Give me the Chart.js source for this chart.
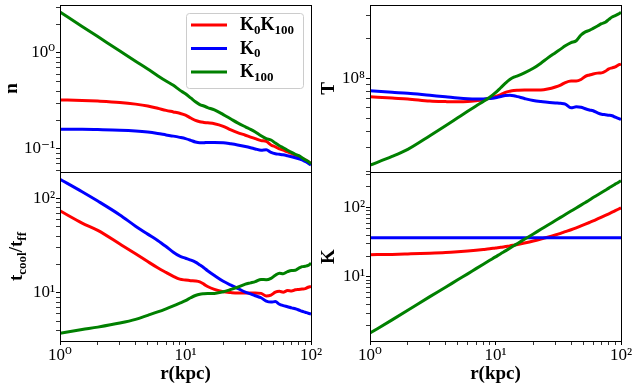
<!DOCTYPE html>
<html>
<head>
<meta charset="utf-8">
<script src="https://cdn.jsdelivr.net/npm/chart.js@4.4.1/dist/chart.umd.min.js"></script>
<style>
  body { margin: 0; background: #fff; }
  #fig { position: relative; width: 635px; height: 390px; }
  #fig canvas { position: absolute; left: 0; top: 0; }
</style>
</head>
<body>
<div id="fig">
  <canvas id="nChart" width="635" height="390"></canvas>
  <canvas id="tChart" width="635" height="390"></canvas>
  <canvas id="coolChart" width="635" height="390"></canvas>
  <canvas id="kChart" width="635" height="390"></canvas>
</div>
<script>
// radius (kpc), shared by every panel
const radius = [1, 1.5, 2, 3, 4, 5, 6, 7, 8, 9, 10, 11, 12, 13, 14, 15, 17, 20, 23, 26,
                30, 33, 36, 40, 44, 48, 52, 56, 60, 65, 70, 75, 80, 85, 90, 95, 100];

// density n
const nK0K100 = [0.324, 0.32, 0.315, 0.305, 0.293, 0.28, 0.265, 0.252, 0.243, 0.235,
                 0.225, 0.21, 0.198, 0.192, 0.189, 0.187, 0.183, 0.172, 0.158, 0.148,
                 0.139, 0.133, 0.128, 0.122, 0.12, 0.11, 0.105, 0.1, 0.097, 0.093,
                 0.09, 0.086, 0.083, 0.08, 0.077, 0.074, 0.07];
const nK0 = [0.16, 0.16, 0.159, 0.157, 0.154, 0.15, 0.145, 0.14, 0.136, 0.132,
             0.128, 0.123, 0.118, 0.116, 0.116, 0.117, 0.117, 0.116, 0.113, 0.11,
             0.106, 0.103, 0.1, 0.097, 0.098, 0.092, 0.089, 0.088, 0.087, 0.085,
             0.083, 0.081, 0.079, 0.077, 0.074, 0.071, 0.068];
const nK100 = [2.67, 1.89, 1.48, 1.05, 0.82, 0.68, 0.58, 0.51, 0.46, 0.41,
               0.375, 0.34, 0.31, 0.29, 0.28, 0.27, 0.255, 0.228, 0.205, 0.187,
               0.17, 0.16, 0.15, 0.137, 0.128, 0.124, 0.115, 0.108, 0.103, 0.097,
               0.092, 0.088, 0.085, 0.081, 0.077, 0.074, 0.07];

// temperature T
const tK0K100 = [0.727e8, 0.71e8, 0.70e8, 0.675e8, 0.668e8, 0.665e8, 0.668e8, 0.678e8, 0.69e8, 0.71e8,
                 0.73e8, 0.755e8, 0.785e8, 0.80e8, 0.81e8, 0.814e8, 0.818e8, 0.816e8, 0.817e8, 0.83e8,
                 0.86e8, 0.89e8, 0.93e8, 0.955e8, 0.955e8, 0.98e8, 1.035e8, 1.06e8, 1.08e8, 1.095e8,
                 1.1e8, 1.13e8, 1.18e8, 1.2e8, 1.22e8, 1.26e8, 1.28e8];
const tK0 = [0.806e8, 0.785e8, 0.772e8, 0.745e8, 0.727e8, 0.712e8, 0.703e8, 0.70e8, 0.70e8, 0.705e8,
             0.715e8, 0.73e8, 0.742e8, 0.746e8, 0.74e8, 0.728e8, 0.705e8, 0.68e8, 0.668e8, 0.661e8,
             0.653e8, 0.648e8, 0.64e8, 0.60e8, 0.61e8, 0.606e8, 0.59e8, 0.578e8, 0.57e8, 0.55e8,
             0.537e8, 0.532e8, 0.528e8, 0.523e8, 0.51e8, 0.50e8, 0.49e8];
const tK100 = [0.222e8, 0.258e8, 0.292e8, 0.37e8, 0.44e8, 0.505e8, 0.565e8, 0.62e8, 0.67e8, 0.72e8,
               0.78e8, 0.85e8, 0.92e8, 0.98e8, 1.02e8, 1.045e8, 1.1e8, 1.19e8, 1.3e8, 1.42e8,
               1.56e8, 1.66e8, 1.76e8, 1.86e8, 1.92e8, 2.12e8, 2.24e8, 2.3e8, 2.38e8, 2.48e8,
               2.58e8, 2.65e8, 2.78e8, 2.9e8, 2.97e8, 3.05e8, 3.14e8];

// t_cool / t_ff
const coolK0K100 = [74, 55, 46, 33, 26, 21.5, 18.5, 16.5, 15, 14,
                    13.7, 13.5, 13.4, 13.1, 12.4, 11.7, 10.9, 10.3, 10.1, 10.0,
                    10.0, 10.0, 10.0, 9.9, 9.3, 9.5, 10.2, 10.4, 10.2, 10.6,
                    10.5, 10.8, 10.9, 11.0, 11.1, 11.5, 11.7];
const coolK0 = [160, 118, 94, 67, 51, 42, 36, 31, 27, 24.5,
                23.3, 22.3, 21.2, 19.8, 18.5, 17.2, 15.3, 13.3, 12.1, 11.2,
                10.2, 9.8, 9.35, 8.9, 8.2, 8.0, 8.1, 7.6, 7.35, 7.15,
                6.95, 6.8, 6.6, 6.4, 6.25, 6.1, 6.0];
const coolK100 = [3.75, 4.1, 4.35, 4.8, 5.25, 5.8, 6.3, 6.8, 7.3, 7.8,
                  8.3, 8.9, 9.4, 9.7, 9.8, 9.85, 9.9, 10.3, 10.9, 11.5,
                  12.4, 12.8, 13.2, 13.9, 13.8, 14.3, 15.4, 16.2, 16.0, 16.8,
                  17.3, 17.4, 18.3, 19.0, 19.2, 19.6, 20.6];

// entropy K
const kK0K100 = [21.0, 21.2, 21.5, 22.0, 22.5, 23.1, 23.7, 24.3, 24.9, 25.5,
                 26.2, 26.8, 27.5, 28.1, 28.8, 29.5, 30.9, 33.0, 35.2, 37.4,
                 40.4, 42.7, 45.1, 48.1, 51.3, 54.6, 57.9, 61.2, 64.5, 68.8,
                 73.1, 77.4, 81.7, 86.1, 90.6, 95.1, 99.6];
const kK0 = [37, 37, 37, 37, 37, 37, 37, 37, 37, 37,
             37, 37, 37, 37, 37, 37, 37, 37, 37, 37,
             37, 37, 37, 37, 37, 37, 37, 37, 37, 37,
             37, 37, 37, 37, 37, 37, 37];
const kK100 = [1.55, 2.4, 3.3, 5.2, 7.1, 9.1, 11.1, 13.2, 15.3, 17.4,
               19.5, 21.7, 23.8, 26.0, 28.3, 30.5, 35.0, 41.8, 48.8, 55.8,
               65.3, 72.5, 79.8, 89.5, 99.3, 109, 119, 129, 140, 153,
               166, 179, 192, 206, 219, 232, 246];

// axis ranges
const xRange = [1, 100];
const nRange = [0.0575, 3.16];
const tRange = [1.97e7, 3.57e8];
const coolRange = [3.1, 191];
const kRange = [1.19, 328];

const RED = '#ff0000', BLUE = '#0000ff', GREEN = '#008000';
const SERIF = '"Liberation Serif", "DejaVu Serif", serif';
const SUP = { '-': '⁻', '0': '⁰', '1': '¹', '2': '²', '3': '³', '4': '⁴', '5': '⁵', '6': '⁶', '7': '⁷', '8': '⁸', '9': '⁹' };

// legend names, written as [text, subscript?] pieces
const legendNames = [
  [['K', 0], ['0', 1], ['K', 0], ['100', 1]],
  [['K', 0], ['0', 1]],
  [['K', 0], ['100', 1]]
];

function powLabel(v) {
  const e = Math.log10(v);
  if (Math.abs(e - Math.round(e)) > 1e-6) return '';
  return '10' + String(Math.round(e)).split('').map(c => SUP[c]).join('');
}

// one tick for every 1..9 x 10^e inside the range
function decadeTicks(scale) {
  const out = [];
  for (let e = Math.floor(Math.log10(scale.min)); e <= Math.ceil(Math.log10(scale.max)); e++) {
    for (let m = 1; m < 10; m++) {
      const v = m * Math.pow(10, e);
      if (v >= scale.min * 0.9999 && v <= scale.max * 1.0001) out.push({ value: v, major: m === 1 });
    }
  }
  scale.ticks = out;
}

function drawRuns(ctx, runs, x, y, size, align) {
  const main = 'bold ' + size + 'px ' + SERIF;
  const sub = 'bold ' + Math.round(size * 0.7) + 'px ' + SERIF;
  let w = 0;
  runs.forEach(([t, s]) => { ctx.font = s ? sub : main; w += ctx.measureText(t).width; });
  let cx = align === 'center' ? x - w / 2 : x;
  ctx.textAlign = 'left';
  ctx.textBaseline = 'alphabetic';
  runs.forEach(([t, s]) => {
    ctx.font = s ? sub : main;
    ctx.fillText(t, cx, s ? y + size * 0.22 : y);
    cx += ctx.measureText(t).width;
  });
}

// frame, axis titles and legend
const decoPlugin = {
  id: 'deco',
  afterDraw(chart, args, o) {
    const ctx = chart.ctx, ca = chart.chartArea;
    ctx.save();
    ctx.strokeStyle = '#000';
    ctx.lineWidth = 1;
    ctx.strokeRect(Math.round(ca.left) + 0.5, Math.round(ca.top) + 0.5,
                   Math.round(ca.right - ca.left), Math.round(ca.bottom - ca.top));
    ctx.fillStyle = '#000';

    ctx.save();
    ctx.translate(o.yTitleX, (ca.top + ca.bottom) / 2);
    ctx.rotate(-Math.PI / 2);
    drawRuns(ctx, o.yTitle, 0, 0, 19, 'center');
    ctx.restore();

    if (o.xTitle) drawRuns(ctx, o.xTitle, (ca.left + ca.right) / 2, 379, 19, 'center');

    if (o.legend) {
      const bx = ca.right - 125, by = ca.top + 8, bw = 117, bh = 75;
      ctx.beginPath();
      ctx.roundRect(bx + 0.5, by + 0.5, bw, bh, 3);
      ctx.fillStyle = 'rgba(255,255,255,0.8)';
      ctx.fill();
      ctx.strokeStyle = '#cccccc';
      ctx.stroke();
      [RED, BLUE, GREEN].forEach((c, i) => {
        const ly = by + 12 + i * 23.5;
        ctx.strokeStyle = c;
        ctx.lineWidth = 3;
        ctx.beginPath();
        ctx.moveTo(bx + 5, ly);
        ctx.lineTo(bx + 41, ly);
        ctx.stroke();
        ctx.fillStyle = '#000';
        drawRuns(ctx, legendNames[i], bx + 54, ly + 5, 18, 'left');
      });
    }
    ctx.restore();
  }
};

function panel(id, area, yRange, series, deco) {
  const showX = area.b > 300;
  const xh = showX ? 45 : 0;
  const tickFont = { family: SERIF, size: 17 };
  return new Chart(document.getElementById(id), {
    type: 'line',
    data: {
      datasets: series.map(s => ({
        data: radius.map((r, j) => ({ x: r, y: s.values[j] })),
        borderColor: s.color,
        borderWidth: 3,
        pointRadius: 0,
        cubicInterpolationMode: 'monotone',
        clip: 0,
        order: s.order
      }))
    },
    options: {
      responsive: false,
      animation: false,
      devicePixelRatio: 1,
      events: [],
      layout: { padding: { left: area.l - 50, right: 635 - area.r, top: area.t, bottom: 390 - area.b - xh } },
      plugins: { legend: { display: false }, tooltip: { enabled: false }, deco: deco },
      scales: {
        x: {
          type: 'logarithmic', min: xRange[0], max: xRange[1],
          afterBuildTicks: decadeTicks,
          afterFit: s => { s.height = xh; s.paddingLeft = 0; s.paddingRight = 0; },
          border: { display: false },
          grid: { drawOnChartArea: false, drawTicks: showX, tickLength: 4, color: '#000',
                  lineWidth: c => (c.tick && c.tick.major ? 1 : 0.8) },
          ticks: { display: showX, autoSkip: false, maxRotation: 0, padding: 0,
                   color: '#000', font: tickFont, callback: powLabel }
        },
        y: {
          type: 'logarithmic', min: yRange[0], max: yRange[1],
          afterBuildTicks: decadeTicks,
          afterFit: s => { s.width = 50; s.paddingTop = 0; s.paddingBottom = 0; },
          border: { display: false },
          grid: { drawOnChartArea: false, tickLength: 4, color: '#000',
                  lineWidth: c => (c.tick && c.tick.major ? 1 : 0.8) },
          ticks: { autoSkip: false, padding: 1, color: '#000', font: tickFont, callback: powLabel }
        }
      }
    },
    plugins: [decoPlugin]
  });
}

const series = (red, blue, green) => [
  { values: red, color: RED, order: 2 },
  { values: blue, color: BLUE, order: 1 },
  { values: green, color: GREEN, order: 0 }
];

panel('nChart', { l: 60, r: 311, t: 5, b: 172 }, nRange, series(nK0K100, nK0, nK100),
      { yTitle: [['n', 0]], yTitleX: 17, legend: true });
panel('tChart', { l: 370, r: 621, t: 5, b: 172 }, tRange, series(tK0K100, tK0, tK100),
      { yTitle: [['T', 0]], yTitleX: 334 });
panel('coolChart', { l: 60, r: 311, t: 172, b: 341 }, coolRange, series(coolK0K100, coolK0, coolK100),
      { yTitle: [['t', 0], ['cool', 1], ['/t', 0], ['ff', 1]], yTitleX: 22, xTitle: [['r(kpc)', 0]] });
panel('kChart', { l: 370, r: 621, t: 172, b: 341 }, kRange, series(kK0K100, kK0, kK100),
      { yTitle: [['K', 0]], yTitleX: 334, xTitle: [['r(kpc)', 0]] });
</script>
</body>
</html>
